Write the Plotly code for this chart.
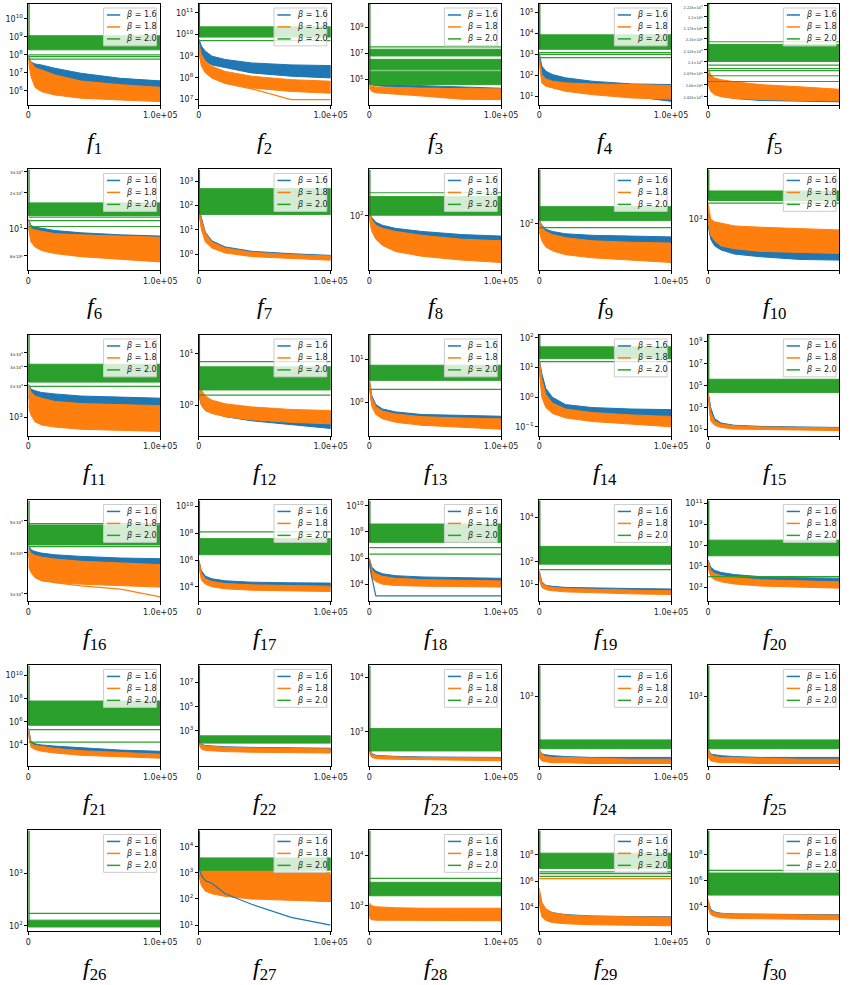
import math
import plotly.graph_objects as go

# ---------------- data (y values are log10 exponents) ----------------
X_EVALS = [0, 2000, 5000, 10000, 20000, 40000, 70000, 100000]
BETAS = ["1.6", "1.8", "2.0"]
FUNCS = ["f%d" % i for i in range(1, 31)]

Y_RANGE = {
    "f1": [5.24, 10.82], "f2": [6.77, 11.4], "f3": [3.03, 10.8], "f4": [0.6, 5.4], "f5": [3.3025, 3.3481],
    "f6": [0.658, 1.49], "f7": [-0.66, 3.49], "f8": [1.3, 2.6], "f9": [1.4, 2.7], "f10": [2.62, 3.37],
    "f11": [2.83, 3.77], "f12": [-0.59, 1.37], "f13": [-0.77, 1.56], "f14": [-1.3, 2.1], "f15": [0.45, 9.64],
    "f16": [3.453, 3.761], "f17": [2.93, 10.45], "f18": [2.7, 10.4], "f19": [0.23, 4.77], "f20": [1.65, 11.3],
    "f21": [2.16, 10.88], "f22": [0.1, 8.4], "f23": [2.37, 4.22], "f24": [2.2, 3.35], "f25": [2.2, 3.35],
    "f26": [1.9, 3.82], "f27": [0.77, 4.62], "f28": [2.49, 4.51], "f29": [2.19, 9.86], "f30": [2.12, 9.88],
}

Y_TICKS = {
    "f1": [1e6, 1e7, 1e8, 1e9, 1e10], "f2": [1e7, 1e8, 1e9, 1e10, 1e11], "f3": [1e5, 1e7, 1e9],
    "f4": [1e1, 1e2, 1e3, 1e4, 1e5],
    "f5": [2025, 2050, 2075, 2100, 2125, 2150, 2175, 2200, 2225],
    "f6": [6, 10, 20, 30], "f7": [1, 10, 100, 1000], "f8": [100], "f9": [100], "f10": [1000],
    "f11": [1000, 2000, 3000, 4000], "f12": [1, 10], "f13": [1, 10], "f14": [0.1, 1, 10, 100],
    "f15": [1e1, 1e3, 1e5, 1e7, 1e9], "f16": [3000, 4000, 5000], "f17": [1e4, 1e6, 1e8, 1e10],
    "f18": [1e4, 1e6, 1e8, 1e10], "f19": [1e1, 1e2, 1e4], "f20": [1e3, 1e5, 1e7, 1e9, 1e11],
    "f21": [1e4, 1e6, 1e8, 1e10], "f22": [1e3, 1e5, 1e7], "f23": [1e3, 1e4], "f24": [1e3], "f25": [1e3],
    "f26": [1e2, 1e3], "f27": [1e1, 1e2, 1e3, 1e4], "f28": [1e3, 1e4], "f29": [1e4, 1e6, 1e8],
    "f30": [1e4, 1e6, 1e8],
}

# envelope of the beta = 1.6 runs (upper / lower), log10 of best error at X_EVALS
BLUE_HI = {
    "f1": [8.0, 7.6, 7.5, 7.44, 7.26, 6.98, 6.7, 6.56],
    "f2": [9.8, 9.46, 9.23, 9.0, 8.85, 8.69, 8.6, 8.57],
    "f3": [4.85, 4.72, 4.68, 4.65, 4.6, 4.5, 4.4, 4.3],
    "f4": [3.08, 2.44, 2.2, 2.04, 1.88, 1.72, 1.59, 1.56],
    "f5": [3.3169, 3.3142, 3.3133, 3.3127, 3.3121, 3.3112, 3.3099, 3.3087],
    "f6": [1.08, 1.027, 1.014, 1.005, 0.986, 0.967, 0.95, 0.94],
    "f7": [2.0, 1.5, 0.9, 0.55, 0.3, 0.12, 0.02, -0.05],
    "f8": [2.1, 1.98, 1.92, 1.88, 1.84, 1.8, 1.76, 1.74],
    "f9": [2.05, 1.98, 1.93, 1.9, 1.87, 1.85, 1.84, 1.83],
    "f10": [3.05, 2.95, 2.92, 2.9, 2.88, 2.86, 2.84, 2.83],
    "f11": [3.31, 3.264, 3.25, 3.233, 3.22, 3.2, 3.19, 3.18],
    "f12": [0.45, 0.25, 0.15, 0.08, 0.02, -0.05, -0.1, -0.12],
    "f13": [0.55, 0.15, -0.05, -0.15, -0.22, -0.28, -0.3, -0.32],
    "f14": [1.3, 0.8, 0.3, 0.0, -0.25, -0.35, -0.4, -0.42],
    "f15": [4.5, 3.0, 2.0, 1.6, 1.4, 1.3, 1.25, 1.2],
    "f16": [3.625, 3.61, 3.605, 3.6, 3.595, 3.59, 3.585, 3.583],
    "f17": [6.0, 5.2, 4.8, 4.6, 4.45, 4.35, 4.3, 4.28],
    "f18": [6.0, 5.3, 5.0, 4.8, 4.65, 4.55, 4.5, 4.45],
    "f19": [1.6, 1.1, 0.95, 0.9, 0.85, 0.82, 0.8, 0.78],
    "f20": [5.6, 4.9, 4.6, 4.4, 4.2, 4.0, 3.9, 3.85],
    "f21": [5.5, 4.3, 4.1, 4.0, 3.9, 3.75, 3.55, 3.45],
    "f22": [2.3, 1.9, 1.8, 1.75, 1.7, 1.65, 1.6, 1.58],
    "f23": [2.75, 2.6, 2.57, 2.56, 2.55, 2.54, 2.53, 2.53],
    "f24": [2.4, 2.34, 2.33, 2.32, 2.31, 2.3, 2.3, 2.3],
    "f25": [2.4, 2.34, 2.33, 2.32, 2.31, 2.3, 2.3, 2.3],
    "f26": [2.05, 2.03, 2.02, 2.02, 2.01, 2.01, 2.0, 2.0],
    "f27": [3.3, 3.2, 3.15, 3.1, 3.05, 3.0, 2.95, 2.9],
    "f28": [3.0, 2.95, 2.93, 2.92, 2.91, 2.9, 2.9, 2.9],
    "f29": [5.0, 4.2, 3.8, 3.6, 3.45, 3.35, 3.3, 3.28],
    "f30": [4.4, 3.8, 3.6, 3.5, 3.45, 3.42, 3.4, 3.38],
}
BLUE_LO = {
    "f1": [7.8, 7.2, 7.0, 6.89, 6.7, 6.52, 6.33, 6.15],
    "f2": [9.5, 9.0, 8.77, 8.6, 8.46, 8.23, 8.08, 8.0],
    "f3": [4.7, 4.55, 4.5, 4.45, 4.4, 4.33, 4.27, 4.22],
    "f4": [2.8, 1.8, 1.64, 1.56, 1.4, 1.24, 1.0, 0.76],
    "f5": [3.3127, 3.3095, 3.3078, 3.3065, 3.3053, 3.3044, 3.3040, 3.3038],
    "f6": [1.0, 0.97, 0.96, 0.95, 0.94, 0.93, 0.918, 0.91],
    "f7": [1.8, 1.1, 0.6, 0.35, 0.15, 0.0, -0.08, -0.12],
    "f8": [2.0, 1.85, 1.78, 1.72, 1.66, 1.62, 1.58, 1.55],
    "f9": [1.95, 1.85, 1.8, 1.77, 1.74, 1.72, 1.71, 1.7],
    "f10": [2.95, 2.85, 2.8, 2.77, 2.74, 2.72, 2.7, 2.695],
    "f11": [3.2, 3.1, 3.05, 3.02, 3.0, 2.99, 2.98, 2.97],
    "f12": [0.2, 0.0, -0.1, -0.15, -0.22, -0.3, -0.38, -0.45],
    "f13": [0.4, -0.05, -0.2, -0.3, -0.38, -0.44, -0.48, -0.5],
    "f14": [1.0, 0.2, -0.2, -0.4, -0.55, -0.65, -0.7, -0.75],
    "f15": [4.0, 2.0, 1.5, 1.3, 1.15, 1.05, 1.0, 0.95],
    "f16": [3.59, 3.58, 3.575, 3.57, 3.566, 3.562, 3.56, 3.556],
    "f17": [5.7, 4.8, 4.5, 4.3, 4.15, 4.05, 4.0, 3.98],
    "f18": [5.6, 4.8, 4.5, 4.3, 4.15, 4.1, 4.05, 4.0],
    "f19": [1.3, 0.95, 0.85, 0.78, 0.72, 0.68, 0.65, 0.62],
    "f20": [5.0, 4.3, 4.0, 3.8, 3.6, 3.45, 3.35, 3.3],
    "f21": [5.0, 4.0, 3.85, 3.75, 3.6, 3.45, 3.3, 3.2],
    "f22": [2.0, 1.6, 1.5, 1.45, 1.4, 1.35, 1.32, 1.3],
    "f23": [2.65, 2.55, 2.53, 2.52, 2.51, 2.5, 2.5, 2.49],
    "f24": [2.3, 2.28, 2.27, 2.26, 2.26, 2.25, 2.25, 2.25],
    "f25": [2.3, 2.28, 2.27, 2.26, 2.26, 2.25, 2.25, 2.25],
    "f26": [2.0, 1.99, 1.99, 1.99, 1.99, 1.99, 1.99, 1.99],
    "f27": [3.0, 2.6, 2.4, 2.3, 2.2, 2.1, 2.0, 1.9],
    "f28": [2.8, 2.78, 2.77, 2.76, 2.75, 2.75, 2.74, 2.74],
    "f29": [4.5, 3.6, 3.3, 3.15, 3.0, 2.9, 2.85, 2.8],
    "f30": [4.0, 3.5, 3.35, 3.25, 3.2, 3.15, 3.12, 3.1],
}
# envelope of the beta = 1.8 runs
ORANGE_HI = {
    "f1": [7.9, 7.6, 7.3, 7.17, 6.89, 6.55, 6.35, 6.2],
    "f2": [9.6, 9.08, 8.77, 8.54, 8.3, 8.08, 7.92, 7.85],
    "f3": [4.6, 4.45, 4.4, 4.38, 4.35, 4.3, 4.27, 4.25],
    "f4": [2.9, 2.04, 1.83, 1.72, 1.64, 1.59, 1.56, 1.51],
    "f5": [3.3193, 3.3159, 3.3146, 3.3138, 3.3129, 3.3116, 3.3106, 3.3095],
    "f6": [1.08, 1.0, 0.99, 0.98, 0.96, 0.95, 0.94, 0.93],
    "f7": [2.0, 1.4, 0.85, 0.5, 0.25, 0.08, -0.02, -0.08],
    "f8": [2.1, 1.95, 1.88, 1.84, 1.8, 1.75, 1.7, 1.68],
    "f9": [2.05, 1.95, 1.9, 1.86, 1.82, 1.78, 1.76, 1.75],
    "f10": [3.12, 3.0, 2.98, 2.97, 2.95, 2.94, 2.93, 2.92],
    "f11": [3.3, 3.24, 3.2, 3.18, 3.15, 3.13, 3.12, 3.11],
    "f12": [0.5, 0.3, 0.18, 0.1, 0.03, -0.03, -0.08, -0.1],
    "f13": [0.55, 0.1, -0.1, -0.2, -0.27, -0.33, -0.36, -0.38],
    "f14": [1.3, 0.6, 0.1, -0.2, -0.4, -0.52, -0.6, -0.65],
    "f15": [4.3, 2.6, 1.8, 1.5, 1.35, 1.25, 1.2, 1.15],
    "f16": [3.615, 3.6, 3.593, 3.588, 3.582, 3.575, 3.57, 3.565],
    "f17": [6.0, 5.0, 4.6, 4.4, 4.25, 4.15, 4.1, 4.05],
    "f18": [6.0, 5.1, 4.8, 4.6, 4.45, 4.35, 4.3, 4.25],
    "f19": [1.6, 1.05, 0.92, 0.85, 0.8, 0.76, 0.73, 0.7],
    "f20": [5.5, 4.6, 4.3, 4.1, 3.9, 3.7, 3.6, 3.5],
    "f21": [5.3, 4.1, 3.95, 3.85, 3.7, 3.5, 3.35, 3.2],
    "f22": [2.3, 1.85, 1.75, 1.7, 1.65, 1.6, 1.55, 1.52],
    "f23": [2.75, 2.58, 2.56, 2.55, 2.54, 2.53, 2.52, 2.52],
    "f24": [2.4, 2.33, 2.31, 2.3, 2.3, 2.29, 2.28, 2.28],
    "f25": [2.4, 2.33, 2.31, 2.3, 2.3, 2.29, 2.28, 2.28],
    "f26": [2.04, 2.02, 2.02, 2.01, 2.01, 2.0, 2.0, 2.0],
    "f27": [3.4, 3.3, 3.25, 3.2, 3.15, 3.1, 3.05, 3.0],
    "f28": [3.06, 3.0, 2.98, 2.97, 2.96, 2.95, 2.95, 2.95],
    "f29": [5.5, 4.4, 3.9, 3.6, 3.42, 3.32, 3.28, 3.25],
    "f30": [4.6, 3.7, 3.55, 3.48, 3.43, 3.4, 3.38, 3.35],
}
ORANGE_LO = {
    "f1": [7.6, 6.8, 6.2, 5.96, 5.78, 5.6, 5.5, 5.41],
    "f2": [9.3, 8.54, 8.23, 8.0, 7.77, 7.54, 7.38, 7.3],
    "f3": [4.3, 4.05, 3.95, 3.9, 3.85, 3.7, 3.45, 3.42],
    "f4": [2.6, 1.64, 1.48, 1.4, 1.24, 1.08, 0.92, 0.87],
    "f5": [3.3116, 3.3085, 3.3070, 3.3061, 3.3053, 3.3049, 3.3044, 3.3044],
    "f6": [1.0, 0.89, 0.85, 0.82, 0.795, 0.77, 0.75, 0.726],
    "f7": [1.7, 1.0, 0.5, 0.25, 0.05, -0.1, -0.18, -0.25],
    "f8": [1.95, 1.8, 1.7, 1.62, 1.54, 1.48, 1.43, 1.4],
    "f9": [1.9, 1.78, 1.7, 1.65, 1.6, 1.56, 1.53, 1.5],
    "f10": [2.98, 2.88, 2.84, 2.8, 2.78, 2.76, 2.75, 2.745],
    "f11": [3.1, 3.02, 2.96, 2.93, 2.91, 2.89, 2.88, 2.87],
    "f12": [0.2, 0.0, -0.1, -0.16, -0.22, -0.28, -0.33, -0.36],
    "f13": [0.35, -0.1, -0.28, -0.38, -0.46, -0.53, -0.58, -0.62],
    "f14": [0.9, 0.0, -0.35, -0.55, -0.7, -0.82, -0.9, -1.0],
    "f15": [3.8, 1.8, 1.4, 1.2, 1.05, 0.98, 0.95, 0.92],
    "f16": [3.56, 3.54, 3.525, 3.515, 3.51, 3.505, 3.5, 3.496],
    "f17": [5.5, 4.5, 4.2, 4.0, 3.85, 3.75, 3.7, 3.65],
    "f18": [5.4, 4.5, 4.2, 4.0, 3.9, 3.85, 3.8, 3.78],
    "f19": [1.2, 0.85, 0.75, 0.7, 0.65, 0.6, 0.56, 0.53],
    "f20": [4.8, 4.0, 3.7, 3.5, 3.3, 3.1, 3.0, 2.9],
    "f21": [4.8, 3.8, 3.6, 3.45, 3.3, 3.1, 2.95, 2.85],
    "f22": [1.9, 1.5, 1.4, 1.35, 1.3, 1.25, 1.2, 1.18],
    "f23": [2.6, 2.53, 2.51, 2.5, 2.49, 2.48, 2.48, 2.47],
    "f24": [2.3, 2.26, 2.25, 2.24, 2.24, 2.23, 2.23, 2.23],
    "f25": [2.3, 2.26, 2.25, 2.24, 2.24, 2.23, 2.23, 2.23],
    "f26": [2.0, 1.99, 1.99, 1.99, 1.99, 1.99, 1.99, 1.99],
    "f27": [2.9, 2.5, 2.3, 2.2, 2.1, 2.0, 1.95, 1.9],
    "f28": [2.75, 2.72, 2.71, 2.7, 2.7, 2.7, 2.7, 2.7],
    "f29": [4.2, 3.3, 3.0, 2.85, 2.75, 2.68, 2.63, 2.6],
    "f30": [3.9, 3.4, 3.25, 3.15, 3.1, 3.05, 3.02, 3.0],
}
# beta = 2.0 runs stay flat: dense bands (lo, hi) plus isolated levels
GREEN_BANDS = {
    "f1": [(8.28, 9.06)], "f2": [(9.88, 10.35)], "f3": [(4.58, 5.62), (5.72, 6.53), (6.79, 7.31)],
    "f4": [(3.24, 3.93)], "f5": [(3.3221, 3.3298)], "f6": [(1.11, 1.214)], "f7": [(1.64, 2.7)],
    "f8": [(2.01, 2.25)], "f9": [(2.04, 2.22)], "f10": [(3.145, 3.21)], "f11": [(3.33, 3.497)],
    "f12": [(0.3, 0.75)], "f13": [(0.51, 0.86)], "f14": [(1.3, 1.7)], "f15": [(4.4, 5.6)],
    "f16": [(3.625, 3.686)], "f17": [(6.4, 7.6)], "f18": [(7.2, 8.6)], "f19": [(1.9, 2.7)],
    "f20": [(6.0, 7.5)], "f21": [(5.7, 7.8)], "f22": [(2.0, 2.6)], "f23": [(2.65, 3.06)],
    "f24": [(2.4, 2.5)], "f25": [(2.4, 2.5)], "f26": [(1.98, 2.11)], "f27": [(3.1, 3.57)],
    "f28": [(3.2, 3.47)], "f29": [(6.97, 8.13)], "f30": [(4.9, 6.6)],
}
GREEN_LEVELS = {
    "f1": [8.0, 7.9, 7.76], "f2": [9.72], "f3": [7.49], "f4": [3.08, 3.0, 2.84],
    "f5": [3.3310, 3.3204, 3.3189, 3.3179, 3.3156, 3.3130], "f6": [1.096, 1.068, 1.019], "f7": [],
    "f8": [2.3], "f9": [1.95], "f10": [3.14, 3.12], "f11": [3.29], "f12": [0.85, 0.2], "f13": [0.3],
    "f14": [1.2], "f15": [], "f16": [3.62, 3.69], "f17": [8.1], "f18": [6.8, 6.3], "f19": [1.65],
    "f20": [4.0], "f21": [5.32, 4.24], "f22": [], "f23": [], "f24": [], "f25": [], "f26": [2.24],
    "f27": [], "f28": [3.55], "f29": [6.71, 6.58, 6.37], "f30": [6.8],
}
# a few stray individual runs
EXTRA_RUNS = {
    "f2": [("1.8", [9.2, 8.6, 8.3, 8.0, 7.75, 7.5, 7.0, 7.0])],
    "f16": [("1.8", [3.6, 3.55, 3.53, 3.52, 3.51, 3.5, 3.49, 3.466])],
    "f18": [("1.6", [5.8, 4.5, 3.1, 3.1, 3.1, 3.1, 3.1, 3.1])],
    "f27": [("1.6", [3.2, 2.9, 2.7, 2.6, 2.2, 1.8, 1.3, 1.0])],
    "f29": [("1.8", [6.19, 6.19, 6.19, 6.19, 6.19, 6.19, 6.19, 6.19])],
}

# ---------------- styling ----------------
W, H = 856, 985
COLOR = {"1.6": "#1f77b4", "1.8": "#ff7f0e", "2.0": "#2ca02c"}
COL_LEFT = [26, 200.5, 375, 549, 722]
ROW_TOP = [1, 167, 333, 499, 664.5, 830]
PW, PH = 135, 101
TICK_FONT = dict(family="DejaVu Sans", size=8, color="#222")


def px_x(v):
    return v / W


def px_y(v):
    return 1 - v / H


def tick_label(v, tiny):
    k = int(math.floor(math.log10(v) + 1e-9))
    m = v / 10 ** k
    ks = str(k).replace("-", "\u2212")
    if abs(m - 1) < 1e-9 and not tiny:
        return "10<sup>%s</sup>" % ks
    size = 3.5 if tiny else 4
    return '<span style="font-size:%spx">%s\u00d710<sup>%s</sup></span>' % (size, ("%g" % m), ks)


fig = go.Figure()
layout = dict(width=W, height=H, margin=dict(l=0, r=0, t=0, b=0), paper_bgcolor="white",
              plot_bgcolor="white", showlegend=False, autosize=False)
shapes, annotations = [], []


def tolin(vals):
    return [10 ** v for v in vals]


for k, fn in enumerate(FUNCS):
    r, c = divmod(k, 5)
    sfx = "" if k == 0 else str(k + 1)
    xa, ya = "x" + sfx, "y" + sfx
    left, top = COL_LEFT[c], ROW_TOP[r]
    right = min(left + PW, W)
    lo, hi = Y_RANGE[fn]

    # bands of runs
    for beta, HI, LO in (("1.6", BLUE_HI, BLUE_LO), ("1.8", ORANGE_HI, ORANGE_LO)):
        xs = X_EVALS + X_EVALS[::-1]
        ys = tolin(HI[fn]) + tolin(LO[fn][::-1])
        fig.add_trace(go.Scatter(x=xs, y=ys, mode="lines", fill="toself", fillcolor=COLOR[beta],
                                 line=dict(color=COLOR[beta], width=1), xaxis=xa, yaxis=ya,
                                 hoverinfo="skip", showlegend=False))
    for beta, vals in EXTRA_RUNS.get(fn, []):
        fig.add_trace(go.Scatter(x=X_EVALS, y=tolin(vals), mode="lines", line=dict(color=COLOR[beta], width=1.2),
                                 xaxis=xa, yaxis=ya, hoverinfo="skip", showlegend=False))
    # flat beta = 2.0 runs
    g = COLOR["2.0"]
    for blo, bhi in GREEN_BANDS[fn]:
        fig.add_trace(go.Scatter(x=[0, 100000, 100000, 0, 0], y=tolin([blo, blo, bhi, bhi, blo]), mode="lines",
                                 fill="toself", fillcolor=g, line=dict(color=g, width=1), xaxis=xa, yaxis=ya,
                                 hoverinfo="skip", showlegend=False))
    for lv in GREEN_LEVELS[fn]:
        fig.add_trace(go.Scatter(x=[0, 100000], y=tolin([lv, lv]), mode="lines", line=dict(color=g, width=1.2),
                                 xaxis=xa, yaxis=ya, hoverinfo="skip", showlegend=False))
    gmin = min(b[0] for b in GREEN_BANDS[fn])
    fig.add_trace(go.Scatter(x=[0, 0], y=tolin([gmin, hi]), mode="lines", line=dict(color="#1e7a1e", width=2.5),
                             xaxis=xa, yaxis=ya, hoverinfo="skip", showlegend=False))

    tiny_all = fn == "f5"
    tv = Y_TICKS[fn]
    layout["xaxis" + sfx] = dict(domain=[px_x(left), px_x(right)], anchor=ya, range=[0, 100000],
                                 tickvals=[0, 100000], ticktext=["0", "1.0e+05"], ticks="outside", ticklen=3,
                                 tickcolor="black", showgrid=False, zeroline=False, showline=True,
                                 linecolor="black", linewidth=1, mirror=True, tickfont=TICK_FONT)
    layout["yaxis" + sfx] = dict(domain=[px_y(top + PH), px_y(top)], anchor=xa, type="log", range=[lo, hi],
                                 tickvals=tv, ticktext=[tick_label(v, tiny_all) for v in tv], ticks="outside",
                                 ticklen=3, tickcolor="black", showgrid=False, zeroline=False, showline=True,
                                 linecolor="black", linewidth=1, mirror=True, tickfont=TICK_FONT)

    # legend box (drawn per panel, upper right)
    bx1 = right - 4 if c < 4 else left + PW - 4
    bx0 = bx1 - 54
    by0, by1 = top + 4, top + 42
    shapes.append(dict(type="rect", xref="paper", yref="paper", x0=px_x(bx0), x1=px_x(bx1),
                       y0=px_y(by1), y1=px_y(by0), fillcolor="rgba(255,255,255,0.8)",
                       line=dict(color="#cccccc", width=1), layer="above"))
    for i, beta in enumerate(BETAS):
        yy = by0 + 7 + 12 * i
        shapes.append(dict(type="line", xref="paper", yref="paper", x0=px_x(bx0 + 3.5), x1=px_x(bx0 + 17),
                           y0=px_y(yy), y1=px_y(yy), line=dict(color=COLOR[beta], width=1.5), layer="above"))
        annotations.append(dict(xref="paper", yref="paper", x=px_x(bx0 + 21), y=px_y(yy), xanchor="left",
                                yanchor="middle", showarrow=False, text="<i>\u03b2</i> = %s" % beta,
                                font=dict(family="DejaVu Sans", size=8, color="#222")))
    # function label
    annotations.append(dict(xref="paper", yref="paper", x=px_x(left + PW / 2), y=px_y(top + 139),
                            xanchor="center", yanchor="middle", showarrow=False,
                            text="<i>f</i><sub>%d</sub>" % (k + 1),
                            font=dict(family="Liberation Serif", size=24, color="black")))

layout["shapes"] = shapes
layout["annotations"] = annotations
fig.update_layout(**layout)
fig.write_html("out.html", config={"displayModeBar": False},
               post_script="document.body.style.margin='0';")
